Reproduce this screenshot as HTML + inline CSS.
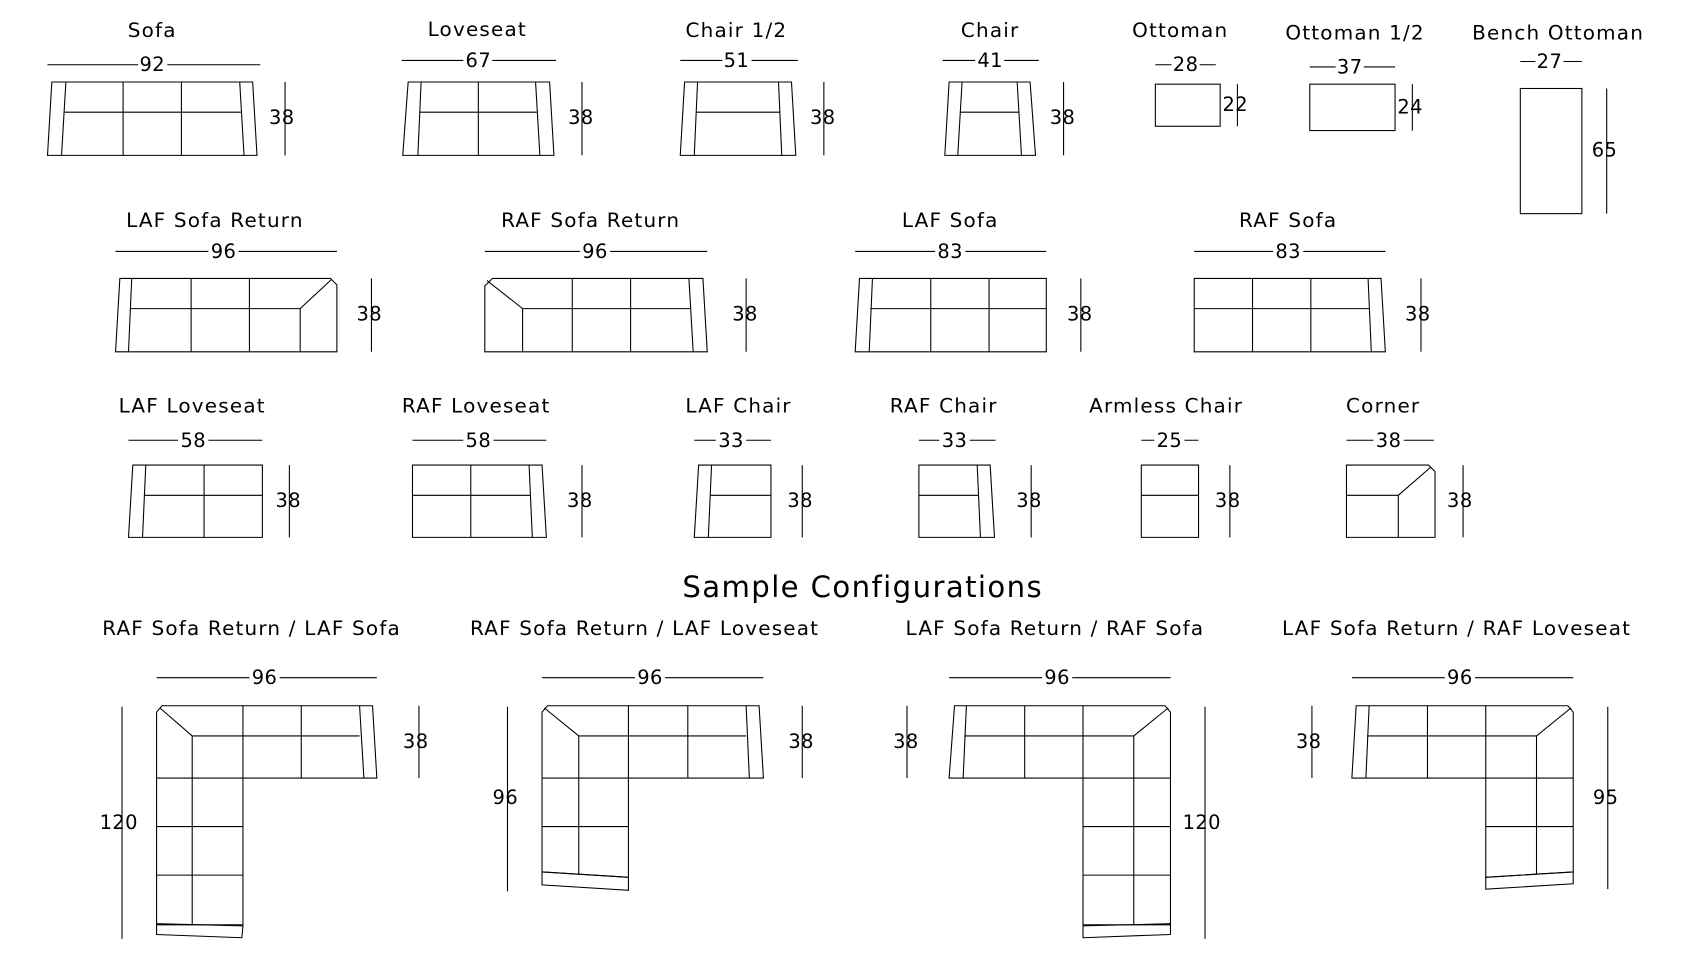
<!DOCTYPE html>
<html><head><meta charset="utf-8"><style>
html,body{margin:0;padding:0;background:#fff;}
svg{display:block;}
text{font-family:"DejaVu Sans","Liberation Sans",sans-serif;font-size:18px;fill:#000;text-anchor:middle;dominant-baseline:central;letter-spacing:0.4px;}
.t text{font-size:18.5px;letter-spacing:1.1px;}
</style></head><body>
<svg width="1692" height="955" viewBox="0 0 1567 885" preserveAspectRatio="none" xmlns="http://www.w3.org/2000/svg">
<g fill="none" stroke="#000" stroke-width="1">
<path d="M44 60H241M372 56H515M630 56H739M873 56H962M1070 60H1126M1213 62H1292M1408 57H1465"/>
<path d="M264 76V144M539 76V144M763 76V144M985 76V144M1146 78V117M1308 78V121M1488 82V198"/>
<path d="M48 76H234L238 144H44ZM61 76L57 144M222 76L226 144M114 76V144M168 76V144M60 104H223"/>
<path d="M378 76H509L513 144H373ZM390 76L387 144M496 76L500 144M443 76V144M389 104H497"/>
<path d="M634 76H733L737 144H630ZM646 76L643 144M721 76L724 144M645 104H722"/>
<path d="M879 76H954L959 144H875ZM891 76L887 144M942 76L946 144M889 104H944"/>
<rect x="1070" y="78" width="60" height="39"/>
<rect x="1213" y="78" width="79" height="43"/>
<rect x="1408" y="82" width="57" height="116"/>
<path d="M107 233H312M449 233H655M792 233H969M1106 233H1283"/>
<path d="M344 258V326M691 258V326M1001 258V326M1316 258V326"/>
<path d="M111 258H306L312 264V326H107ZM122 258L119 326M177 258V326M231 258V326M121 286H278M307 259L278 286V326"/>
<path d="M456 258H651L655 326H449V265ZM638 258L642 326M530 258V326M584 258V326M484 286H639M451 260L484 286V326"/>
<path d="M796 258H969V326H792ZM808 258L805 326M862 258V326M916 258V326M806 286H969"/>
<path d="M1106 258H1279L1283 326H1106ZM1267 258L1270 326M1160 258V326M1214 258V326M1106 286H1268"/>
<path d="M119 408H243M382 408H506M643 408H714M851 408H922M1057 408H1110M1247 408H1328"/>
<path d="M268 431V498M539 431V498M743 431V498M955 431V498M1139 431V498M1355 431V498"/>
<path d="M123 431H243V498H119ZM135 431L132 498M189 431V498M134 459H243"/>
<path d="M382 431H502L506 498H382ZM490 431L493 498M436 431V498M382 459H491"/>
<path d="M647 431H714V498H643ZM659 431L656 498M658 459H714"/>
<path d="M851 431H917L921 498H851ZM905 431L908 498M851 459H906"/>
<path d="M1057 431H1110V498H1057ZM1057 459H1110"/>
<path d="M1247 431H1323L1329 437V498H1247ZM1325 433L1295 459V498M1247 459H1295"/>
<path d="M145 628H349M502 628H707M879 628H1084M1252 628H1457"/>
<path d="M113 655V870M388 654V721M470 655V826M743 654V721M840 654V721M1116 655V870M1215 654V721M1489 655V824"/>
<path d="M145 660L150 654H345L349 721H225V857H145ZM148 656L178 682H333M178 682V857M225 654V721M279 654V721M333 654L337 721M145 721H225M145 766H225M145 811H225"/>
<path d="M145 856L225 858L224 869L145 866Z"/>
<path d="M502 660L507 654H703L707 721H582V813L502 808ZM504 656L536 682H691M536 682V810M582 654V721M637 654V721M691 654L694 721M502 721H582M502 766H582"/>
<path d="M502 808L582 813V825L502 820Z"/>
<path d="M884 654H1079L1084 660V857H1003V721H879ZM895 654L892 721M949 654V721M1003 654V721M893 682H1050L1082 656M1050 682V857M1003 766H1084M1003 811H1084M1003 721H1084"/>
<path d="M1003 858L1084 856V866L1003 869Z"/>
<path d="M1256 654H1452L1457 660V808L1376 813V721H1252ZM1268 654L1265 721M1322 654V721M1376 654V721M1266 682H1423L1455 656M1423 682V810M1376 766H1457M1376 721H1457"/>
<path d="M1376 813L1457 808V819L1376 824Z"/>
</g>
<g fill="#fff" stroke="none">
<rect x="128" y="50" width="27" height="20"/><rect x="429" y="46" width="27" height="20"/><rect x="669" y="46" width="27" height="20"/><rect x="903" y="46" width="27" height="20"/><rect x="1085" y="50" width="26" height="20"/><rect x="1237" y="52" width="26" height="20"/><rect x="1422" y="47" width="26" height="20"/>
<rect x="193" y="223" width="28" height="20"/><rect x="537" y="223" width="28" height="20"/><rect x="866" y="223" width="28" height="20"/><rect x="1179" y="223" width="28" height="20"/>
<rect x="165" y="398" width="28" height="20"/><rect x="429" y="398" width="28" height="20"/><rect x="663" y="398" width="28" height="20"/><rect x="870" y="398" width="28" height="20"/><rect x="1069" y="398" width="28" height="20"/><rect x="1272" y="398" width="28" height="20"/>
<rect x="231" y="618" width="28" height="20"/><rect x="588" y="618" width="28" height="20"/><rect x="965" y="618" width="28" height="20"/><rect x="1338" y="618" width="28" height="20"/>
</g>
<g class="t">
<text x="141" y="28">Sofa</text><text x="442" y="27">Loveseat</text><text x="682" y="28">Chair 1/2</text><text x="917" y="28">Chair</text><text x="1093" y="28">Ottoman</text><text x="1255" y="30">Ottoman 1/2</text><text x="1443" y="30">Bench Ottoman</text>
<text x="199" y="204">LAF Sofa Return</text><text x="547" y="204">RAF Sofa Return</text><text x="880" y="204">LAF Sofa</text><text x="1193" y="204">RAF Sofa</text>
<text x="178" y="376">LAF Loveseat</text><text x="441" y="376">RAF Loveseat</text><text x="684" y="376">LAF Chair</text><text x="874" y="376">RAF Chair</text><text x="1080" y="376">Armless Chair</text><text x="1281" y="376">Corner</text>
<text x="233" y="582">RAF Sofa Return / LAF Sofa</text><text x="597" y="582">RAF Sofa Return / LAF Loveseat</text><text x="977" y="582">LAF Sofa Return / RAF Sofa</text><text x="1349" y="582">LAF Sofa Return / RAF Loveseat</text>
</g>
<text x="799" y="544" style="font-size:27px;letter-spacing:1.3px">Sample Configurations</text>
<g>
<text x="141" y="60">92</text><text x="443" y="56">67</text><text x="682" y="56">51</text><text x="917" y="56">41</text><text x="1098" y="60">28</text><text x="1250" y="62">37</text><text x="1435" y="57">27</text>
<text x="261" y="109">38</text><text x="538" y="109">38</text><text x="762" y="109">38</text><text x="984" y="109">38</text><text x="1144" y="97">22</text><text x="1306" y="99">24</text><text x="1486" y="139">65</text>
<text x="207" y="233">96</text><text x="551" y="233">96</text><text x="880" y="233">83</text><text x="1193" y="233">83</text>
<text x="342" y="291">38</text><text x="690" y="291">38</text><text x="1000" y="291">38</text><text x="1313" y="291">38</text>
<text x="179" y="408">58</text><text x="443" y="408">58</text><text x="677" y="408">33</text><text x="884" y="408">33</text><text x="1083" y="408">25</text><text x="1286" y="408">38</text>
<text x="267" y="464">38</text><text x="537" y="464">38</text><text x="741" y="464">38</text><text x="953" y="464">38</text><text x="1137" y="464">38</text><text x="1352" y="464">38</text>
<text x="245" y="628">96</text><text x="602" y="628">96</text><text x="979" y="628">96</text><text x="1352" y="628">96</text>
<text x="110" y="762">120</text><text x="385" y="687">38</text><text x="468" y="739">96</text><text x="742" y="687">38</text><text x="839" y="687">38</text><text x="1113" y="762">120</text><text x="1212" y="687">38</text><text x="1487" y="739">95</text>
</g>
</svg>
</body></html>
